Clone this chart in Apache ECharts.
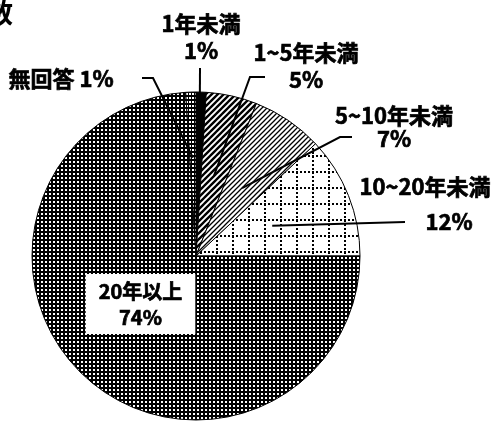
<!DOCTYPE html>
<html>
<head>
<meta charset="utf-8">
<script src="https://cdn.jsdelivr.net/npm/echarts@6/dist/echarts.min.js"></script>
<style>
  html, body { margin: 0; padding: 0; background: #fff; }
  #chart { width: 497px; height: 421px; }
</style>
</head>
<body>
<div id="chart"></div>
<script>
// Years of experience – share of respondents (%)
const categories = ['1年未満', '1~5年未満', '5~10年未満', '10~20年未満', '20年以上', '無回答'];
const shares = [1, 5, 7, 12, 74, 1];
const titleText = '数';

// Pie geometry (px)
const PIE_CX = 196, PIE_CY = 256, PIE_R = 164;

// Label placement: block centre, line height, leader-line route (after the inner anchor)
const labelSpots = {
  '1年未満':     { x: 201, y: 37, lh: 26.5, inner: 0.7, line: [[200, 68]] },
  '1~5年未満':   { x: 306, y: 66, lh: 27.5, inner: 0.5, line: [[250, 77], [265, 77]] },
  '5~10年未満':  { x: 394, y: 127, lh: 23.5, inner: 0.5, line: [[340, 137], [352, 137]] },
  '10~20年未満': { x: 425, y: 204.5, lh: 35, inner: 0.5, pctShift: 24, line: [[405, 222]] },
  '20年以上':    { x: 140.5, y: 304, lh: 26, boxed: true },
  '無回答':      { x: 61, y: 79, oneLine: true, inner: 0.6, line: [[153, 78], [142, 78]] }
};

// ---- fill patterns ----
function tile(w, h, draw) {
  const c = document.createElement('canvas');
  c.width = w; c.height = h;
  const g = c.getContext('2d');
  draw(g, w, h);
  return c;
}
function diagonal(size, width) {
  return tile(size, size, (g, w, h) => {
    g.fillStyle = '#fff'; g.fillRect(0, 0, w, h);
    g.strokeStyle = '#000'; g.lineWidth = width; g.lineCap = 'square';
    g.beginPath();
    for (const k of [-size, 0, size]) { g.moveTo(k, size); g.lineTo(k + size, 0); }
    g.stroke();
  });
}
const patterns = {
  solid: '#000',
  thickDiag: diagonal(6, 2.4),
  thinDiag: diagonal(5, 1.3),
  dotGrid: tile(16, 16, (g) => {
    g.fillStyle = '#fff'; g.fillRect(0, 0, 16, 16);
    g.fillStyle = '#000';
    for (let t = 0; t < 16; t += 4) {
      g.fillRect(8, t, 2, 2);   // vertical dotted line
      g.fillRect(t, 11, 2, 2);  // horizontal dotted line
    }
  }),
  denseDots: tile(4, 4, (g) => {
    g.fillStyle = '#000'; g.fillRect(0, 0, 4, 4);
    g.fillStyle = '#fff'; g.fillRect(1, 1, 2, 2);
  }),
  lightDots: tile(3, 4, (g) => {
    g.fillStyle = '#000'; g.fillRect(0, 0, 3, 4);
    g.fillStyle = '#fff'; g.fillRect(0, 1, 2, 2);
  })
};
const sliceFill = ['solid', 'thickDiag', 'thinDiag', 'dotGrid', 'denseDots', 'lightDots'];
function fillOf(key) {
  const p = patterns[key];
  return typeof p === 'string' ? p : { image: p, repeat: 'repeat' };
}

// Point inside a slice, on its middle angle, at fraction k of the radius
const total = shares.reduce((a, b) => a + b, 0);
function sliceAnchor(i, k) {
  let before = 0;
  for (let j = 0; j < i; j++) before += shares[j];
  const theta = (before + shares[i] / 2) / total * Math.PI * 2;
  return [PIE_CX + k * PIE_R * Math.sin(theta), PIE_CY - k * PIE_R * Math.cos(theta)];
}

const FONT = '"Noto Sans CJK JP", "Noto Sans", sans-serif';

const pieData = categories.map((name, i) => {
  const spot = labelSpots[name];
  const size = spot.boxed ? 20 : 22;
  const base = {
    fontFamily: FONT, fontWeight: 'bold', fontSize: size, color: '#000',
    lineHeight: spot.lh || size, textBorderColor: '#000', textBorderWidth: 0.7
  };
  const label = {
    show: true,
    position: 'outside',
    formatter: spot.oneLine
      ? '{n|' + name + ' ' + shares[i] + '%}'
      : '{n|' + name + '}\n{p|' + shares[i] + '%}',
    rich: {
      n: base,
      p: Object.assign({}, base, spot.pctShift ? { padding: [0, 0, 0, spot.pctShift * 2] } : {})
    }
  };
  if (spot.boxed) {
    label.backgroundColor = '#fff';
    label.padding = [4, 13];
  }
  return {
    name: name,
    value: shares[i],
    itemStyle: { color: fillOf(sliceFill[i]) },
    label: label,
    labelLine: { show: false }
  };
});

// Leader lines: start inside each slice on its mid-angle, run out to the label
const leaderLines = categories.map((name, i) => {
  const spot = labelSpots[name];
  if (!spot.line) return null;
  const pts = [sliceAnchor(i, spot.inner)].concat(spot.line);
  return {
    type: 'polyline',
    z: 100,
    silent: true,
    shape: { points: pts },
    style: { stroke: '#000', lineWidth: 2, fill: null, lineJoin: 'miter' }
  };
}).filter(Boolean);

const chart = echarts.init(document.getElementById('chart'), null, { renderer: 'canvas' });
chart.setOption({
  animation: false,
  backgroundColor: '#fff',
  graphic: [{
    type: 'text',
    x: -14, y: -1,
    style: { text: titleText, font: 'bold 27px ' + FONT, fill: '#000' }
  }].concat(leaderLines),
  series: [{
    type: 'pie',
    center: [PIE_CX, PIE_CY],
    radius: PIE_R,
    startAngle: 90,
    clockwise: true,
    avoidLabelOverlap: false,
    silent: true,
    emphasis: { disabled: true },
    itemStyle: { borderColor: '#000', borderWidth: 1 },
    labelLine: { show: false },
    labelLayout: function (params) {
      const spot = labelSpots[categories[params.dataIndex]];
      return { x: spot.x, y: spot.y, align: 'center', verticalAlign: 'middle' };
    },
    data: pieData
  }]
});
</script>
</body>
</html>
